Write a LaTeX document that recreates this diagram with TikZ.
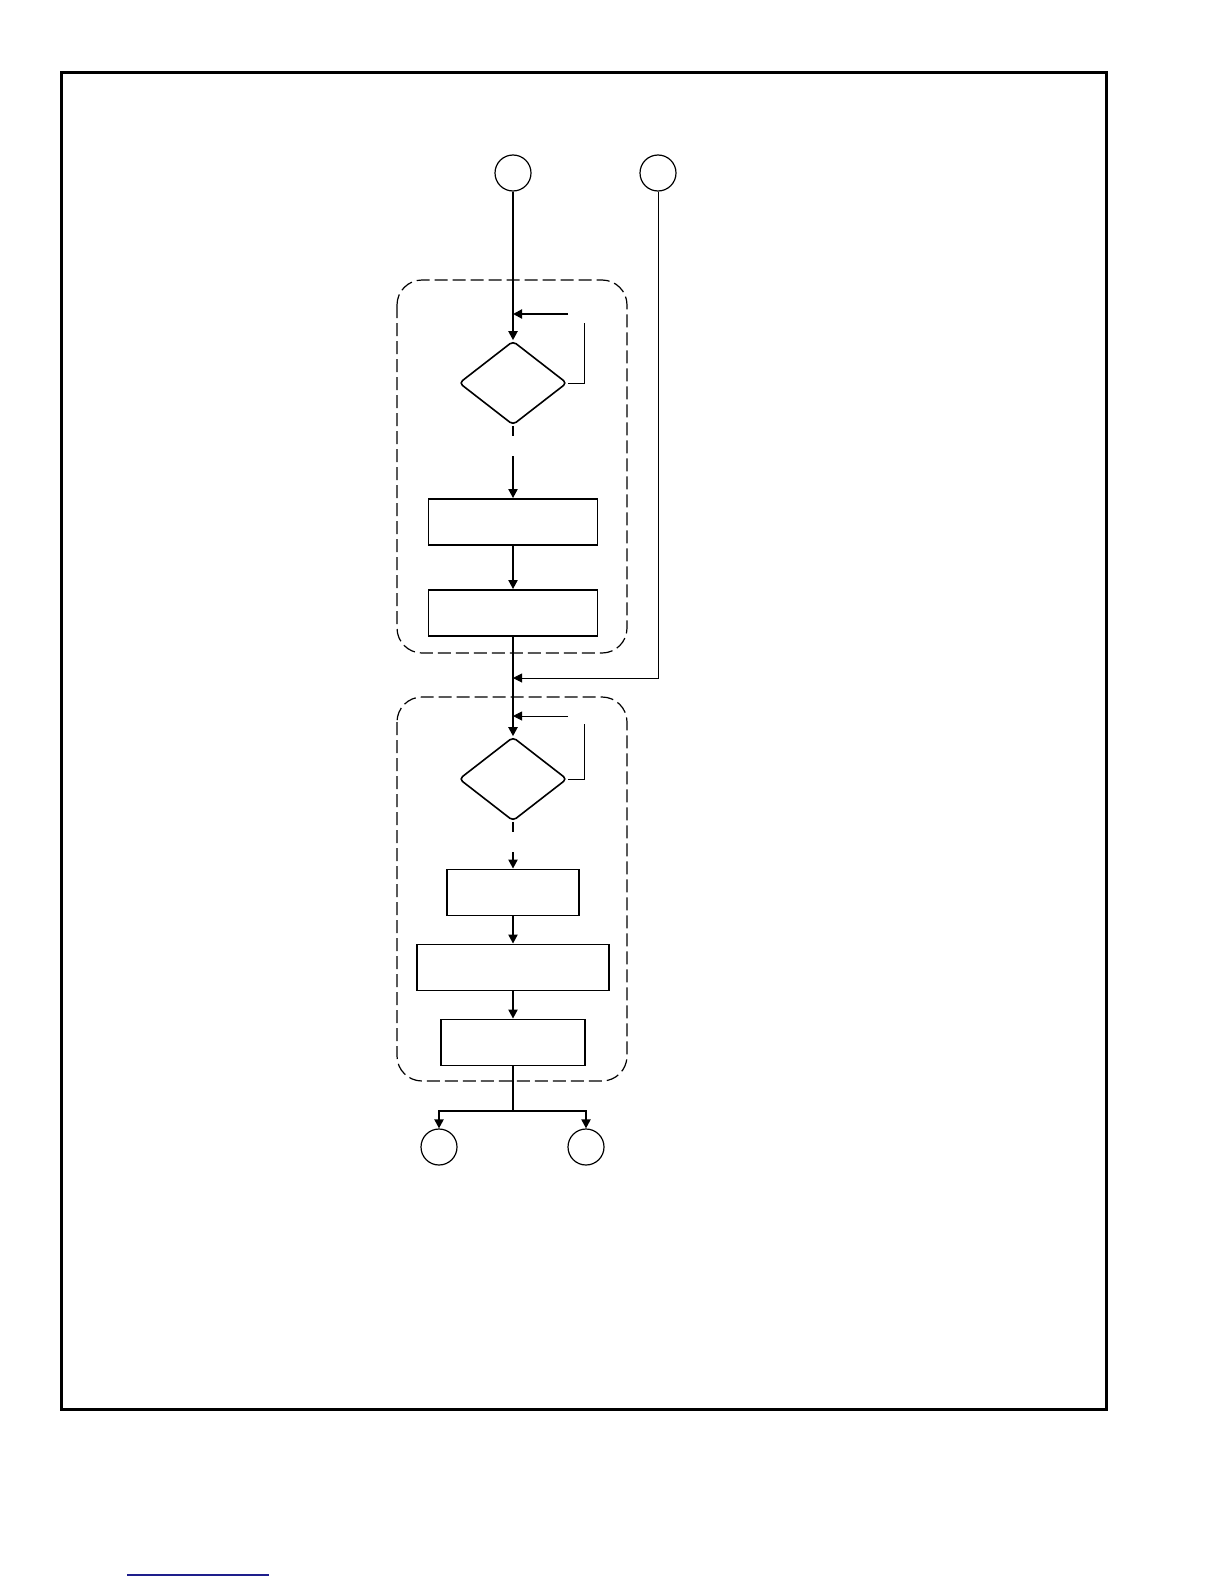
\documentclass[tikz,border=0pt]{standalone}
\usetikzlibrary{shapes.geometric,arrows.meta}

\begin{document}
\begin{tikzpicture}[x=0.5pt, y=-0.5pt,
    every node/.style={font=\small},
    conn/.style={circle, draw, line width=0.6pt, minimum size=18pt, inner sep=0pt},
    decide/.style={diamond, draw, line width=0.8pt, minimum width=54pt, minimum height=42pt, inner sep=0pt, rounded corners=2pt},
    stepbox/.style={rectangle, draw, line width=0.9pt, minimum height=23pt, inner sep=0pt},
    group/.style={draw, dash pattern=on 6.5pt off 2.5pt, line width=0.6pt, rounded corners=12.5pt},
    flow/.style={line width=1pt, -{Triangle[length=4.5pt,width=4.5pt]}},
    thinflow/.style={line width=0.5pt, -{Triangle[length=4.5pt,width=4.5pt]}}]

    \useasboundingbox (0,0) rectangle (1224,1584);

    % Frame
    \draw[line width=1.5pt] (61,73) rectangle (1106,1409);

    % Dashed groups
    \draw[group] (397,280) rectangle (627,653);
    \draw[group] (397,697) rectangle (627,1081);

    % Connectors (circles)
    \node[conn] (inA) at (513,173) {};
    \node[conn] (inB) at (658,173) {};
    \node[conn] (outA) at (439,1147) {};
    \node[conn] (outB) at (586,1147) {};

    % Decisions
    \node[decide] (dec1) at (513,383) {};
    \node[decide] (dec2) at (513,779) {};

    % Process boxes
    \node[stepbox, minimum width=84.5pt] (proc1) at (513,522) {};
    \node[stepbox, minimum width=84.5pt] (proc2) at (513,613) {};
    \node[stepbox, minimum width=66pt] (proc3) at (513,892.5) {};
    \node[stepbox, minimum width=96pt] (proc4) at (513,967.5) {};
    \node[stepbox, minimum width=72pt] (proc5) at (513,1042.5) {};

    % Free ends
    \coordinate (back1) at (568,314);
    \coordinate (back1in) at (513,314);
    \coordinate (loop1) at (584,323);
    \coordinate (yes1) at (513,456);
    \coordinate (stub1) at (513,436);
    \coordinate (join) at (513,678);
    \coordinate (back2) at (568,716);
    \coordinate (back2in) at (513,716);
    \coordinate (loop2) at (584,724);
    \coordinate (yes2) at (513,852);
    \coordinate (stub2) at (513,832);
    \coordinate (split) at (513,1111);

    % First group
    \draw[flow] (inA) -- (dec1);
    \draw[flow] (back1) -- (back1in);
    \draw[line width=0.5pt] (dec1.east) -| (loop1);
    \draw[line width=1pt] (dec1.south) -- (stub1);
    \draw[flow] (yes1) -- (proc1);
    \draw[flow] (proc1) -- (proc2);

    % Second entry
    \draw[thinflow] (inB) |- (join);

    % Second group
    \draw[flow] (proc2) -- (dec2);
    \draw[thinflow] (back2) -- (back2in);
    \draw[line width=0.5pt] (dec2.east) -| (loop2);
    \draw[line width=1pt] (dec2.south) -- (stub2);
    \draw[flow] (yes2) -- (proc3);
    \draw[flow] (proc3) -- (proc4);
    \draw[flow] (proc4) -- (proc5);

    % Outputs
    \draw[line width=1pt] (proc5) -- (split);
    \draw[flow] (split) -| (outA);
    \draw[flow] (split) -| (outB);

    % Link underline
    \draw[line width=0.8pt, color={rgb,255:red,30;green,30;blue,140}] (127,1575) -- (269,1575);

\end{tikzpicture}
\end{document}
